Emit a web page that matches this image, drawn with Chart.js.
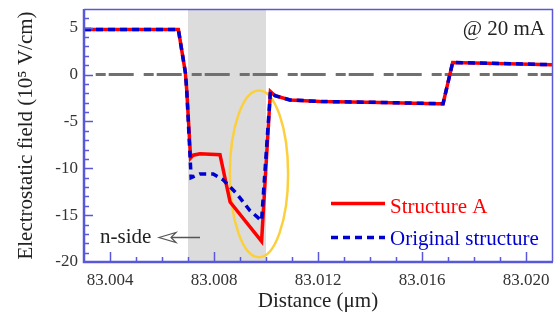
<!DOCTYPE html>
<html>
<head>
<meta charset="utf-8">
<script src="https://cdn.jsdelivr.net/npm/chart.js@4.4.1/dist/chart.umd.min.js"></script>
<style>
  html, body { margin: 0; padding: 0; background: #fff; }
  #wrap { width: 555px; height: 321px; position: relative; }
</style>
</head>
<body>
<div id="wrap"><canvas id="chart"></canvas></div>
<script>
// distance in um, field in 10^5 V/cm
const structAX = [83.003, 83.00663, 83.0069, 83.00695, 83.0071, 83.0072, 83.00746, 83.00823, 83.00862, 83.00983, 83.01017, 83.01035, 83.01092, 83.01208, 83.01438, 83.01658, 83.01681, 83.01718, 83.021];
const structAY = [4.8, 4.8, 0.2, -1.6, -8.9, -8.6, -8.45, -8.55, -13.6, -17.8, -1.8, -2.25, -2.7, -2.87, -2.97, -3.1, -3.1, 1.3, 1.06];
const origX = [83.003, 83.00663, 83.0069, 83.00695, 83.00712, 83.00746, 83.00797, 83.00836, 83.00887, 83.00938, 83.00983, 83.01017, 83.01035, 83.01092, 83.01208, 83.01438, 83.01658, 83.01681, 83.01718, 83.021];
const origY = [4.8, 4.8, 0.2, -1.6, -11.0, -10.6, -10.6, -11.25, -12.7, -14.5, -15.6, -1.8, -2.25, -2.7, -2.87, -2.97, -3.1, -3.1, 1.3, 1.06];
const zeroX = [83.00345, 83.021];
const zeroY = [0, 0];
const xTicks = [83.004, 83.008, 83.012, 83.016, 83.020];
const yTicks = [5, 0, -5, -10, -15, -20];
const nRegion = [83.007, 83.010];

const SERIF = "'Liberation Serif', 'Times New Roman', serif";
const FRAME = '#5858d8';
const RED = '#ff0000';
const BLUE = '#0000d0';

const toPts = (xs, ys) => xs.map((x, i) => ({ x: x, y: ys[i] }));

const overlay = {
  id: 'overlay',
  beforeDatasetsDraw(chart) {
    const { ctx, chartArea: ca, scales: { x, y } } = chart;
    ctx.save();
    // shaded region
    const l = x.getPixelForValue(nRegion[0]);
    const r = x.getPixelForValue(nRegion[1]);
    ctx.fillStyle = '#dcdcdc';
    ctx.fillRect(l, ca.top, r - l, ca.bottom - ca.top);
    // yellow ellipse
    const cx = x.getPixelForValue(83.00973), cy = y.getPixelForValue(-10.6);
    const rx = x.getPixelForValue(83.00973 + 0.00112) - cx;
    const ry = cy - y.getPixelForValue(-10.6 + 8.9);
    ctx.strokeStyle = '#fcd03c';
    ctx.lineWidth = 2.5;
    ctx.beginPath();
    ctx.ellipse(cx, cy, rx, ry, 0, 0, Math.PI * 2);
    ctx.stroke();
    ctx.restore();
  },
  afterDraw(chart) {
    const { ctx, chartArea: ca, scales: { x, y } } = chart;
    ctx.save();
    // ticks pointing inward
    ctx.strokeStyle = FRAME;
    ctx.lineWidth = 1.5;
    ctx.beginPath();
    for (let v = 83.004; v < 83.0205; v += 0.001) {
      const px = Math.round(x.getPixelForValue(v)) + 0.5;
      const major = xTicks.some(t => Math.abs(t - v) < 1e-7);
      ctx.moveTo(px, ca.bottom);
      ctx.lineTo(px, ca.bottom - (major ? 10 : 5));
    }
    for (let v = -19; v <= 6; v++) {
      const py = Math.round(y.getPixelForValue(v)) + 0.5;
      const major = yTicks.includes(v);
      ctx.moveTo(ca.left, py);
      ctx.lineTo(ca.left + (major ? 9 : 5), py);
    }
    ctx.stroke();
    // frame
    ctx.lineWidth = 1.5;
    ctx.beginPath();
    ctx.moveTo(ca.left, ca.top + 0.5);
    ctx.lineTo(ca.right + 0.5, ca.top + 0.5);
    ctx.lineTo(ca.right + 0.5, ca.bottom);
    ctx.stroke();
    ctx.lineWidth = 2.5;
    ctx.beginPath();
    ctx.moveTo(ca.left, ca.top);
    ctx.lineTo(ca.left, ca.bottom);
    ctx.lineTo(ca.right + 1, ca.bottom);
    ctx.stroke();

    // legend
    ctx.lineWidth = 3.5;
    ctx.strokeStyle = RED;
    ctx.beginPath();
    ctx.moveTo(331, 203.5); ctx.lineTo(385, 203.5);
    ctx.stroke();
    ctx.strokeStyle = BLUE;
    ctx.setLineDash([7, 5]);
    ctx.beginPath();
    ctx.moveTo(331, 237.5); ctx.lineTo(385, 237.5);
    ctx.stroke();
    ctx.setLineDash([]);
    ctx.font = '21px ' + SERIF;
    ctx.textBaseline = 'alphabetic';
    ctx.textAlign = 'left';
    ctx.fillStyle = RED;
    ctx.fillText('Structure A', 390, 212.5);
    ctx.fillStyle = BLUE;
    ctx.fillText('Original structure', 390, 245);

    // annotations
    ctx.fillStyle = '#222';
    ctx.textAlign = 'right';
    ctx.fillText('@ 20 mA', 545, 35);
    ctx.textAlign = 'left';
    ctx.fillText('n-side', 100, 243);
    ctx.strokeStyle = '#555';
    ctx.lineWidth = 1.5;
    ctx.beginPath();
    ctx.moveTo(171, 237.5); ctx.lineTo(200, 237.5);
    ctx.stroke();
    ctx.lineWidth = 1.2;
    ctx.beginPath();
    ctx.moveTo(159, 237.5);
    ctx.lineTo(176, 232.5);
    ctx.lineTo(171, 237.5);
    ctx.lineTo(176, 242.5);
    ctx.closePath();
    ctx.stroke();
    ctx.restore();
  }
};

new Chart(document.getElementById('chart'), {
  type: 'line',
  data: {
    datasets: [
      { label: 'Structure A', data: toPts(structAX, structAY), borderColor: RED, borderWidth: 3.5, order: 2 },
      { label: 'Original structure', data: toPts(origX, origY), borderColor: BLUE, borderWidth: 3.5, borderDash: [7, 5], order: 1 },
      { label: 'zero', data: toPts(zeroX, zeroY), borderColor: '#707070', borderWidth: 3, borderDash: [10, 3, 25, 10], order: 3 }
    ]
  },
  options: {
    responsive: true,
    maintainAspectRatio: false,
    animation: false,
    layout: { padding: { top: 9, right: 3, left: 0, bottom: 0 } },
    plugins: { legend: { display: false }, tooltip: { enabled: false } },
    elements: { point: { radius: 0 }, line: { tension: 0 } },
    scales: {
      x: {
        type: 'linear', min: 83.003, max: 83.021,
        afterBuildTicks: s => { s.ticks = xTicks.map(v => ({ value: v })); },
        afterFit: s => { s.height = 59; s.paddingLeft = 0; s.paddingRight = 0; },
        grid: { display: false, drawTicks: false },
        border: { display: false },
        ticks: { font: { family: SERIF, size: 17 }, color: '#333', padding: 8, maxRotation: 0, autoSkip: false, callback: v => v.toFixed(3) },
        title: { display: true, text: 'Distance (μm)', font: { family: SERIF, size: 21 }, color: '#222', padding: { top: 0, bottom: 7 } }
      },
      y: {
        type: 'linear', min: -20, max: 7,
        afterBuildTicks: s => { s.ticks = yTicks.map(v => ({ value: v })); },
        afterFit: s => { s.width = 84; s.paddingTop = 0; s.paddingBottom = 0; },
        grid: { display: false, drawTicks: false },
        border: { display: false },
        ticks: { font: { family: SERIF, size: 17 }, color: '#333', padding: 6, callback: v => String(v) },
        title: { display: true, text: 'Electrostatic field (10⁵ V/cm)', font: { family: SERIF, size: 21 }, color: '#222', padding: { top: 14, bottom: 0 } }
      }
    }
  },
  plugins: [overlay]
});
</script>
</body>
</html>
